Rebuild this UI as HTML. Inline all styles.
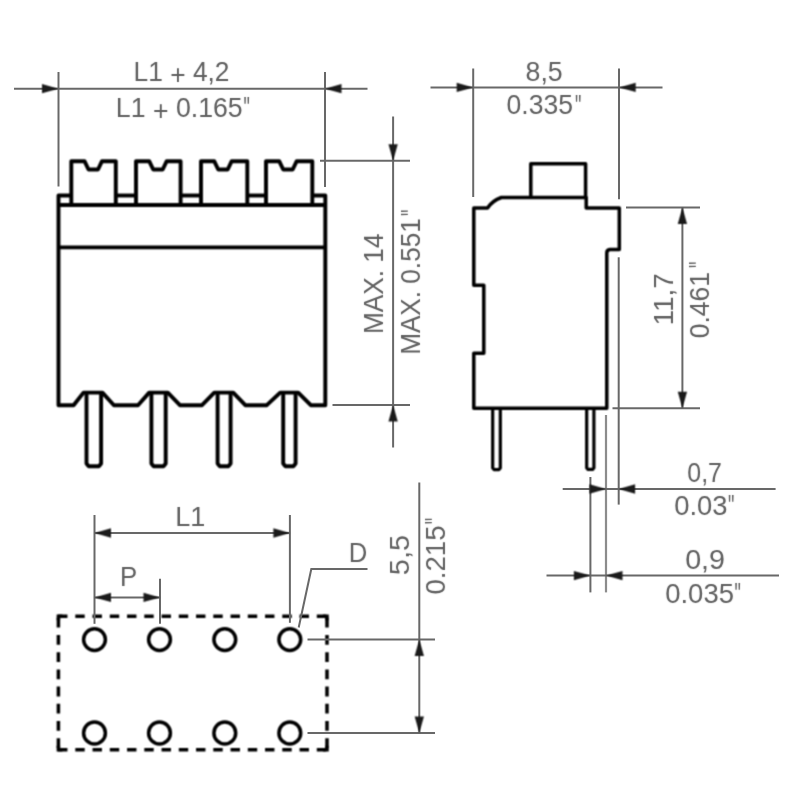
<!DOCTYPE html>
<html lang="en"><head><meta charset="utf-8"><title>Dimensional drawing</title>
<style>
html,body{margin:0;padding:0;background:#fff;}
svg{display:block;}
.k{fill:none;stroke:#000;stroke-width:3.9;stroke-linejoin:round;stroke-linecap:butt;}
.n{fill:none;stroke:#686868;stroke-width:2;}
.a{fill:#1a1a1a;stroke:none;}
text{font-family:"Liberation Sans",sans-serif;font-size:27.2px;fill:#606060;}
text.q{font-size:32px;stroke:none;}
</style></head><body>
<svg width="800" height="800" viewBox="0 0 800 800">
<defs><filter id="b" x="0" y="0" width="800" height="800" filterUnits="userSpaceOnUse" color-interpolation-filters="sRGB"><feConvolveMatrix order="3" kernelMatrix="1 2 1 2 4 2 1 2 1" divisor="16" edgeMode="none" preserveAlpha="false"/></filter><filter id="c" x="0" y="0" width="800" height="800" filterUnits="userSpaceOnUse" color-interpolation-filters="sRGB"><feConvolveMatrix order="3" kernelMatrix="1 6 1 6 36 6 1 6 1" divisor="64" edgeMode="none" preserveAlpha="false"/></filter></defs>
<rect width="800" height="800" fill="#fff"/>
<g filter="url(#b)">
<!-- front view -->
<path class="k" d="M71.3,195.5 H58.5 V405.2 H73.6 L83.5,392.6 H102.4 L113.9,405.2 H138 L149.2,392.6 H167.8 L179.9,405.2 H202 L214.3,392.6 H233.2 L245.3,405.2 H266.8 L280.2,392.6 H298.2 L310.8,405.2 H325.3 V195.5 H312.3"/>
<line class="k" x1="58.5" y1="205.0" x2="325.3" y2="205.0"/>
<line class="k" x1="58.5" y1="247.4" x2="325.3" y2="247.4"/>
<path class="k" d="M71.3,205.0 V161.2 H84.5 L88.5,169.5 H98.0 L102.0,161.2 H115.8 V205.0"/>
<line class="k" x1="115.8" y1="195.5" x2="136" y2="195.5"/>
<path class="k" d="M136,205.0 V161.2 H149.2 L153.2,169.5 H162.7 L166.7,161.2 H180.6 V205.0"/>
<line class="k" x1="180.6" y1="195.5" x2="201" y2="195.5"/>
<path class="k" d="M201,205.0 V161.2 H214.2 L218.2,169.5 H227.7 L231.7,161.2 H247.3 V205.0"/>
<line class="k" x1="247.3" y1="195.5" x2="266" y2="195.5"/>
<path class="k" d="M266,205.0 V161.2 H279.2 L283.2,169.5 H292.7 L296.7,161.2 H312.3 V205.0"/>
<path class="k" d="M86.5,392.6 V463.5 L88.5,466.2 H99.1 L101.1,463.5 V392.6"/>
<path class="k" d="M151.4,392.6 V463.5 L153.4,466.2 H163.7 L165.7,463.5 V392.6"/>
<path class="k" d="M217.6,392.6 V463.5 L219.6,466.2 H228.6 L230.6,463.5 V392.6"/>
<path class="k" d="M283.2,392.6 V463.5 L285.2,466.2 H293.6 L295.6,463.5 V392.6"/>
<!-- side view -->
<path class="k" style="stroke-width:3.5" d="M473.8,208 H487.5 Q492,201 501.3,197.5 H586.2 V208 H619.3 V249.6 H610 Q606.8,250 606.8,253 V408.2 H473.8 V353.2 H483.8 V285.3 H473.8 Z"/>
<path class="k" style="stroke-width:3.5" d="M530.8,197.5 V163.7 H585.6 V197.5"/>
<path class="k" style="stroke-width:3.2" d="M492.7,408 V468 L494,469.6 H499 L500.3,468 V408"/>
<path class="k" style="stroke-width:3.2" d="M586.7,408 V468 L588,469.4 H592.6 L593.9,468 V408"/>
<!-- footprint -->
<g class="k" style="stroke-linecap:butt;stroke-linejoin:miter;stroke-width:3.5">
<path d="M58.05,616.2 H329" style="stroke-dasharray:9.4 7.85"/>
<path d="M58.05,749.8 H329" style="stroke-dasharray:9.4 7.85"/>
<path d="M58.4,617.8 V751.7" style="stroke-dasharray:9.8 7.4"/>
<path d="M327,617.8 V751.7" style="stroke-dasharray:9.8 7.4"/>
<path d="M58.4,620.2 V616.2 H62.4 M58.4,745.8 V749.8 H62.4"/>
<path d="M323,616.2 H327 V620.2 M323,749.8 H327 V745.8"/>
</g>
<circle class="k" cx="94.5" cy="639.6" r="10.9" style="stroke-width:3.5"/>
<circle class="k" cx="94.5" cy="733" r="10.9" style="stroke-width:3.5"/>
<circle class="k" cx="159.5" cy="639.6" r="10.9" style="stroke-width:3.5"/>
<circle class="k" cx="159.5" cy="733" r="10.9" style="stroke-width:3.5"/>
<circle class="k" cx="224.8" cy="639.6" r="10.9" style="stroke-width:3.5"/>
<circle class="k" cx="224.8" cy="733" r="10.9" style="stroke-width:3.5"/>
<circle class="k" cx="289.8" cy="639.6" r="10.9" style="stroke-width:3.5"/>
<circle class="k" cx="289.8" cy="733" r="10.9" style="stroke-width:3.5"/>
</g>
<g class="n">
<line x1="58.5" y1="72" x2="58.5" y2="186.5"/>
<line x1="325" y1="72" x2="325" y2="187"/>
<line x1="14" y1="88.7" x2="367.5" y2="88.7"/>
<line x1="320" y1="160.7" x2="410" y2="160.7"/>
<line x1="332.5" y1="405" x2="410" y2="405"/>
<line x1="393.1" y1="116.5" x2="393.1" y2="447.5"/>
<line x1="473.2" y1="68.5" x2="473.2" y2="197"/>
<line x1="619" y1="68.5" x2="619" y2="199.3"/>
<line x1="430.5" y1="87.4" x2="662.5" y2="87.4"/>
<line x1="626" y1="207.6" x2="700" y2="207.6"/>
<line x1="612.5" y1="408.2" x2="700" y2="408.2"/>
<line x1="682.4" y1="207.6" x2="682.4" y2="408.2"/>
<line x1="618.7" y1="257.3" x2="618.7" y2="504.6"/>
<line x1="606" y1="415" x2="606" y2="592.4" style="stroke:#8c8c8c;stroke-width:2.2"/>
<line x1="590.4" y1="477" x2="590.4" y2="592.4"/>
<line x1="562.7" y1="489" x2="775.6" y2="489"/>
<line x1="546.5" y1="575.6" x2="779" y2="575.6"/>
<line x1="94.5" y1="515" x2="94.5" y2="623.8"/>
<line x1="289.9" y1="515" x2="289.9" y2="622.8"/>
<line x1="94.5" y1="533" x2="289.9" y2="533"/>
<line x1="160" y1="578.8" x2="160" y2="623.8"/>
<line x1="94.5" y1="597.4" x2="160" y2="597.4"/>
<path d="M298.7,627.5 L311.3,569 H367.5"/>
<line x1="307.5" y1="639.6" x2="435" y2="639.6"/>
<line x1="307.5" y1="733" x2="435" y2="733"/>
<line x1="419.3" y1="482.5" x2="419.3" y2="733"/>
</g>
<g filter="url(#b)">
<polygon class="a" points="58.50,88.70 42.00,84.05 42.00,93.35"/>
<polygon class="a" points="325.00,88.70 341.50,84.05 341.50,93.35"/>
<polygon class="a" points="393.10,160.70 388.45,144.20 397.75,144.20"/>
<polygon class="a" points="393.10,405.00 388.45,421.50 397.75,421.50"/>
<polygon class="a" points="473.20,87.40 456.70,82.75 456.70,92.05"/>
<polygon class="a" points="619.20,87.40 635.70,82.75 635.70,92.05"/>
<polygon class="a" points="682.40,207.60 677.75,224.10 687.05,224.10"/>
<polygon class="a" points="682.40,408.20 677.75,391.70 687.05,391.70"/>
<polygon class="a" points="606.00,489.00 589.50,484.35 589.50,493.65"/>
<polygon class="a" points="618.60,489.00 635.10,484.35 635.10,493.65"/>
<polygon class="a" points="590.40,575.60 573.90,570.95 573.90,580.25"/>
<polygon class="a" points="606.00,575.60 622.50,570.95 622.50,580.25"/>
<polygon class="a" points="94.50,533.00 111.00,528.35 111.00,537.65"/>
<polygon class="a" points="289.90,533.00 273.40,528.35 273.40,537.65"/>
<polygon class="a" points="94.50,597.40 111.00,592.75 111.00,602.05"/>
<polygon class="a" points="160.00,597.40 143.50,592.75 143.50,602.05"/>
<polygon class="a" points="419.30,639.60 414.65,656.10 423.95,656.10"/>
<polygon class="a" points="419.30,733.00 414.65,716.50 423.95,716.50"/>
</g>
<g filter="url(#c)">
<text x="133.54" y="80.90" textLength="95.98" lengthAdjust="spacingAndGlyphs">L1 <tspan dy="3">+</tspan><tspan dy="-3"> </tspan>4,2</text>
<text x="115.81" y="116.80" textLength="126.92" lengthAdjust="spacingAndGlyphs">L1 <tspan dy="3">+</tspan><tspan dy="-3"> </tspan>0.165</text>
<text class="q" x="243.43" y="118.82" textLength="6.36" lengthAdjust="spacingAndGlyphs">&quot;</text>
<text x="382.80" y="334.05" textLength="100.51" lengthAdjust="spacingAndGlyphs" transform="rotate(-90 382.80 334.05)">MAX. 14</text>
<text x="419.80" y="354.84" textLength="136.59" lengthAdjust="spacingAndGlyphs" transform="rotate(-90 419.80 354.84)">MAX. 0.551</text>
<text class="q" x="422.62" y="215.87" textLength="6.36" lengthAdjust="spacingAndGlyphs" transform="rotate(-90 422.62 215.87)">&quot;</text>
<text x="525.55" y="81.20" textLength="37.18" lengthAdjust="spacingAndGlyphs">8,5</text>
<text x="506.57" y="113.70" textLength="66.36" lengthAdjust="spacingAndGlyphs">0.335</text>
<text class="q" x="574.93" y="116.62" textLength="6.36" lengthAdjust="spacingAndGlyphs">&quot;</text>
<text x="673.10" y="325.52" textLength="52.22" lengthAdjust="spacingAndGlyphs" transform="rotate(-90 673.10 325.52)">11,7</text>
<text x="708.90" y="338.23" textLength="66.15" lengthAdjust="spacingAndGlyphs" transform="rotate(-90 708.90 338.23)">0.461</text>
<text class="q" x="710.62" y="268.07" textLength="6.36" lengthAdjust="spacingAndGlyphs" transform="rotate(-90 710.62 268.07)">&quot;</text>
<text x="687.33" y="481.50" textLength="34.62" lengthAdjust="spacingAndGlyphs">0,7</text>
<text x="674.23" y="514.80" textLength="53.28" lengthAdjust="spacingAndGlyphs">0.03</text>
<text class="q" x="727.93" y="517.12" textLength="6.36" lengthAdjust="spacingAndGlyphs">&quot;</text>
<text x="685.18" y="569.30" textLength="39.87" lengthAdjust="spacingAndGlyphs">0,9</text>
<text x="665.23" y="602.80" textLength="68.74" lengthAdjust="spacingAndGlyphs">0.035</text>
<text class="q" x="734.43" y="605.12" textLength="6.36" lengthAdjust="spacingAndGlyphs">&quot;</text>
<text x="175.28" y="526.30" textLength="30.06" lengthAdjust="spacingAndGlyphs">L1</text>
<text x="119.89" y="586.30" textLength="17.18" lengthAdjust="spacingAndGlyphs">P</text>
<text x="348.69" y="562.00" textLength="18.54" lengthAdjust="spacingAndGlyphs">D</text>
<text x="409.30" y="575.15" textLength="40.07" lengthAdjust="spacingAndGlyphs" transform="rotate(-90 409.30 575.15)">5,5</text>
<text x="445.40" y="594.47" textLength="68.94" lengthAdjust="spacingAndGlyphs" transform="rotate(-90 445.40 594.47)">0.215</text>
<text class="q" x="446.52" y="524.37" textLength="6.36" lengthAdjust="spacingAndGlyphs" transform="rotate(-90 446.52 524.37)">&quot;</text>
</g>
</svg></body></html>
